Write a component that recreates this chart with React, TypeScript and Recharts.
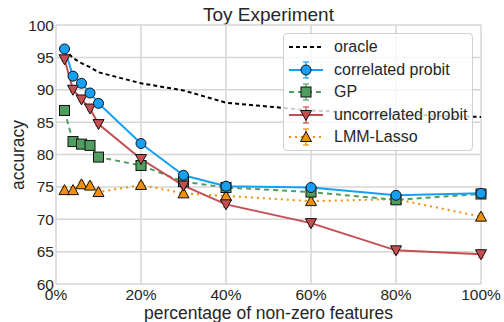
import { LineChart, Line, XAxis, YAxis, CartesianGrid, ErrorBar, Label } from 'recharts'

const pct = [2, 4, 6, 8, 10, 20, 30, 40, 60, 80, 100]
const oracle = [96.3, 94.9, 94.1, 93.5, 92.7, 91.0, 89.9, 88.0, 86.8, 86.2, 85.8]
const corrProbit = [96.3, 92.1, 91.0, 89.5, 87.9, 81.7, 76.8, 75.1, 74.9, 73.7, 74.0]
const corrErr = [0.3, 0.3, 0.3, 0.3, 0.3, 0.3, 0.4, 0.3, 0.4, 0.3, 0.3]
const gp = [86.8, 82.0, 81.6, 81.4, 79.6, 78.3, 75.8, 74.9, 74.2, 73.0, 73.9]
const gpErr = [0.3, 0.3, 0.3, 0.3, 0.3, 0.3, 0.4, 0.3, 0.3, 0.3, 0.3]
const uncorrProbit = [94.7, 90.0, 88.5, 87.1, 84.7, 79.3, 75.2, 72.3, 69.4, 65.2, 64.6]
const uncorrErr = [0.3, 0.3, 0.3, 0.3, 0.3, 0.3, 0.4, 0.4, 0.5, 0.5, 0.5]
const lmmLasso = [74.5, 74.5, 75.4, 75.2, 74.2, 75.3, 74.0, 73.6, 72.8, 73.1, 70.4]
const lmmErr = [0.5, 0.5, 0.5, 0.5, 0.5, 0.4, 0.5, 0.5, 0.5, 0.4, 0.5]

const xTicks = [0, 20, 40, 60, 80, 100]
const yTicks = [60, 65, 70, 75, 80, 85, 90, 95, 100]

const BLUE = '#16a0f5'
const GREEN = '#4f9e5f'
const RED = '#c44e52'
const ORANGE = '#f0900a'
const FONT = '"Liberation Sans", Arial, sans-serif'
const TXT = '#262626'

const data = pct.map((x, i) => ({
  x,
  oracle: oracle[i],
  corr: corrProbit[i],
  corrErr: corrErr[i],
  gp: gp[i],
  gpErr: gpErr[i],
  uncorr: uncorrProbit[i],
  uncorrErr: uncorrErr[i],
  lmm: lmmLasso[i],
  lmmErr: lmmErr[i],
}))

const circleDot = (p: any) => (
  <circle key={p.key} cx={p.cx} cy={p.cy} r={5} fill={BLUE} stroke="#111" strokeWidth={1} />
)
const squareDot = (p: any) => (
  <rect key={p.key} x={p.cx - 5} y={p.cy - 5} width={10} height={10} fill={GREEN} stroke="#111" strokeWidth={1} />
)
const triDownDot = (p: any) => (
  <path key={p.key} d={`M${p.cx - 5.5},${p.cy - 4.5} L${p.cx + 5.5},${p.cy - 4.5} L${p.cx},${p.cy + 5.5} Z`} fill={RED} stroke="#111" strokeWidth={1} />
)
const triUpDot = (p: any) => (
  <path key={p.key} d={`M${p.cx - 5.5},${p.cy + 4.5} L${p.cx + 5.5},${p.cy + 4.5} L${p.cx},${p.cy - 5.5} Z`} fill={ORANGE} stroke="#111" strokeWidth={1} />
)

const legendItems = [
  { name: 'oracle', color: '#000', dash: '4 3', marker: null as string | null },
  { name: 'correlated probit', color: BLUE, dash: undefined, marker: 'circle' },
  { name: 'GP', color: GREEN, dash: '5 4', marker: 'square' },
  { name: 'uncorrelated probit', color: RED, dash: undefined, marker: 'down' },
  { name: 'LMM-Lasso', color: ORANGE, dash: '2 4', marker: 'up' },
]

const Glyph = ({ color, dash, marker }: any) => (
  <svg width={36} height={20} style={{ display: 'block' }}>
    {marker && <line x1={18} y1={2} x2={18} y2={18} stroke={color} strokeOpacity={0.6} strokeWidth={2} />}
    {marker && <line x1={15} y1={2} x2={21} y2={2} stroke={color} strokeOpacity={0.6} strokeWidth={2} />}
    {marker && <line x1={15} y1={18} x2={21} y2={18} stroke={color} strokeOpacity={0.6} strokeWidth={2} />}
    <line x1={1} y1={10} x2={35} y2={10} stroke={color} strokeWidth={2} strokeDasharray={dash} />
    {marker === 'circle' && <circle cx={18} cy={10} r={5} fill={color} stroke="#111" />}
    {marker === 'square' && <rect x={13} y={5} width={10} height={10} fill={color} stroke="#111" />}
    {marker === 'down' && <path d="M12.5,5.5 L23.5,5.5 L18,15.5 Z" fill={color} stroke="#111" />}
    {marker === 'up' && <path d="M12.5,14.5 L23.5,14.5 L18,4.5 Z" fill={color} stroke="#111" />}
  </svg>
)

const LegendBox = () => (
  <div
    style={{
      position: 'absolute',
      left: 283,
      top: 33,
      width: 190,
      height: 118,
      boxSizing: 'border-box',
      border: '1px solid #d0d0d0',
      borderRadius: 4,
      background: 'rgba(255,255,255,0.8)',
      padding: '2px 0 0 4px',
      fontFamily: FONT,
      fontSize: 16,
      color: TXT,
    }}
  >
    {legendItems.map((it) => (
      <div key={it.name} style={{ display: 'flex', alignItems: 'center', height: 22.5 }}>
        <Glyph color={it.color} dash={it.dash} marker={it.marker} />
        <span style={{ marginLeft: 10, whiteSpace: 'nowrap' }}>{it.name}</span>
      </div>
    ))}
  </div>
)

export default function App() {
  return (
    <div style={{ position: 'absolute', left: 0, top: 0, width: 504, height: 322, background: '#fff' }}>
      <div
        style={{
          position: 'absolute',
          left: 56,
          width: 425,
          top: 3,
          textAlign: 'center',
          fontFamily: FONT,
          fontSize: 19,
          color: TXT,
          lineHeight: '24px',
        }}
      >
        Toy Experiment
      </div>
      <LineChart width={504} height={322} data={data} margin={{ top: 25, right: 23, left: 0, bottom: 0 }}>
        <CartesianGrid stroke="#d6d6d6" strokeWidth={1.5} />
        <XAxis
          dataKey="x"
          type="number"
          domain={[0, 100]}
          ticks={xTicks}
          tickFormatter={(v) => `${v}%`}
          axisLine={false}
          tickLine={false}
          tickSize={0}
          tickMargin={5}
          height={38}
          tick={{ fill: TXT, fontSize: 15.5, fontFamily: FONT }}
        >
          <Label
            value="percentage of non-zero features"
            position="insideBottom"
            offset={3}
            style={{ fill: TXT, fontSize: 17.5, fontFamily: FONT }}
          />
        </XAxis>
        <YAxis
          type="number"
          domain={[60, 100]}
          ticks={yTicks}
          axisLine={false}
          tickLine={false}
          tickSize={0}
          tickMargin={2}
          width={56}
          tick={{ fill: TXT, fontSize: 15.5, fontFamily: FONT }}
        >
          <Label
            content={() => (
              <text
                x={18}
                y={155}
                transform="rotate(-90 18 155)"
                textAnchor="middle"
                dominantBaseline="central"
                style={{ fill: TXT, fontSize: 17.5, fontFamily: FONT }}
              >
                accuracy
              </text>
            )}
          />
        </YAxis>
        <Line dataKey="oracle" stroke="#000" strokeWidth={2} strokeDasharray="4 3" dot={false} isAnimationActive={false} />
        <Line dataKey="lmm" stroke={ORANGE} strokeWidth={2} strokeDasharray="2 4" dot={triUpDot} isAnimationActive={false}>
          <ErrorBar dataKey="lmmErr" width={3} stroke={ORANGE} strokeOpacity={0.6} strokeWidth={1.5} direction="y" />
        </Line>
        <Line dataKey="gp" stroke={GREEN} strokeWidth={2} strokeDasharray="5 4" dot={squareDot} isAnimationActive={false}>
          <ErrorBar dataKey="gpErr" width={3} stroke={GREEN} strokeOpacity={0.6} strokeWidth={1.5} direction="y" />
        </Line>
        <Line dataKey="uncorr" stroke={RED} strokeWidth={2} dot={triDownDot} isAnimationActive={false}>
          <ErrorBar dataKey="uncorrErr" width={3} stroke={RED} strokeOpacity={0.6} strokeWidth={1.5} direction="y" />
        </Line>
        <Line dataKey="corr" stroke={BLUE} strokeWidth={2} dot={circleDot} isAnimationActive={false}>
          <ErrorBar dataKey="corrErr" width={3} stroke={BLUE} strokeOpacity={0.6} strokeWidth={1.5} direction="y" />
        </Line>
      </LineChart>
      <LegendBox />
    </div>
  )
}
